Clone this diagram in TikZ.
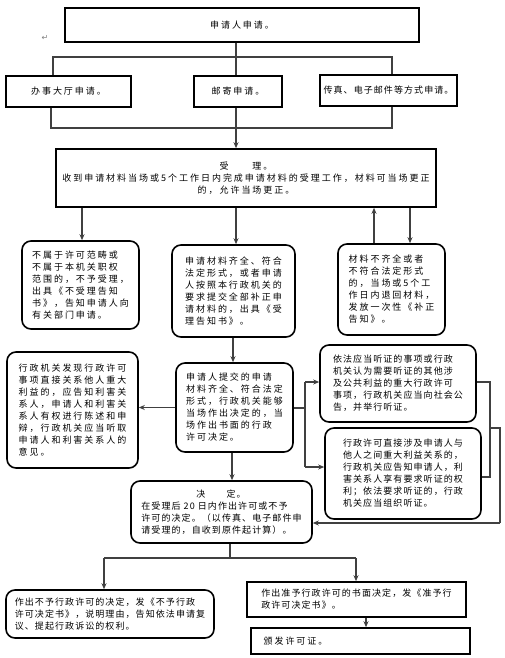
\documentclass[tikz,border=0pt]{standalone}
\usepackage{fontspec}
\setmainfont{Noto Sans CJK SC}[LetterSpace=22]
\newfontfamily\tightcjk{Noto Sans CJK SC}[LetterSpace=12]
\newfontfamily\symfont{DejaVu Sans}
\usetikzlibrary{arrows.meta}
\begin{document}
\begin{tikzpicture}[x=1pt,y=-1pt,
  sq/.style={draw=black, line width=1.6pt, inner sep=0pt, align=center,
    font=\fontsize{9}{12}\selectfont},
  rnd/.style={sq, rounded corners=9pt, align=left},
  conn/.style={line width=1.2pt, draw=black!75},
  arr/.style={conn, -{Stealth[length=6pt,width=5pt]}}]
\path[use as bounding box] (0,0) rectangle (505,658);
\fill[white] (0,0) rectangle (505,658);

\node[text=black!50, font=\symfont\fontsize{8}{8}\selectfont] (ret) at (45,38) {↵};

% row 0 / 1
\node[sq, minimum width=354, minimum height=34] (top) at (242,25) {申请人申请。};
\node[sq, minimum width=125, minimum height=31] (r1a) at (68.5,91.5) {办事大厅申请。};
\node[sq, minimum width=88, minimum height=31] (r1b) at (238,91.5) {邮寄申请。};
\node[sq, minimum width=137, minimum height=31] (r1c) at (388.5,90.5) {\tightcjk 传真、电子邮件等方式申请。};

% accept
\node[sq, minimum width=380, minimum height=58] (acc) at (246,178)
  {受　　理。\\收到申请材料当场或5个工作日内完成申请材料的受理工作，材料可当场更正\\的，允许当场更正。};

% row 2
\node[rnd, minimum width=117, minimum height=88] (r2a) at (80.5,285)
  {不属于许可范畴或\\不属于本机关职权\\范围的，不予受理，\\出具《不受理告知\\书》，告知申请人向\\有关部门申请。};
\node[rnd, minimum width=123, minimum height=92] (r2b) at (233.5,291)
  {申请材料齐全、符合\\法定形式，或者申请\\人按照本行政机关的\\要求提交全部补正申\\请材料的，出具《受\\理告知书》。};
\node[rnd, minimum width=107, minimum height=91] (r2c) at (391.5,289.5)
  {材料不齐全或者\\不符合法定形式\\的，当场或5个工\\作日内退回材料，\\发放一次性《补正\\告知》。};

% row 3
\node[rnd, minimum width=131, minimum height=116] (r3a) at (72.5,410)
  {行政机关发现行政许可\\事项直接关系他人重大\\利益的，应告知利害关\\系人，申请人和利害关\\系人有权进行陈述和申\\辩，行政机关应当听取\\申请人和利害关系人的\\意见。};
\node[rnd, minimum width=117, minimum height=89] (r3b) at (234.5,407.5)
  {申请人提交的申请\\材料齐全、符合法定\\形式，行政机关能够\\当场作出决定的，当\\场作出书面的行政\\许可决定。};
\node[rnd, minimum width=156, minimum height=77] (r3c) at (398,383.5)
  {\tightcjk 依法应当听证的事项或行政\\\tightcjk 机关认为需要听证的其他涉\\\tightcjk 及公共利益的重大行政许可\\\tightcjk 事项，行政机关应当向社会公\\\tightcjk 告，并举行听证。};
\node[rnd, minimum width=156, minimum height=91] (r3d) at (403,473.5)
  {\tightcjk 行政许可直接涉及申请人与\\\tightcjk 他人之间重大利益关系的，\\\tightcjk 行政机关应告知申请人，利\\\tightcjk 害关系人享有要求听证的权\\\tightcjk 利；依法要求听证的，行政\\\tightcjk 机关应当组织听证。};

% decision
\node[rnd, minimum width=181, minimum height=62] (dec) at (221.5,512)
  {\tightcjk\hspace*{55pt}决　　定。\\\tightcjk 在受理后 20 日内作出许可或不予\\\tightcjk 许可的决定。（以传真、电子邮件申\\\tightcjk 请受理的，自收到原件起计算）。};

% bottom
\node[rnd, minimum width=208, minimum height=48] (b1) at (110,614)
  {\tightcjk 作出不予行政许可的决定，发《不予行政\\\tightcjk 许可决定书》，说明理由，告知依法申请复\\\tightcjk 议、提起行政诉讼的权利。};
\node[sq, align=left, minimum width=219, minimum height=35] (b2) at (356.5,599.5)
  {\tightcjk 作出准予行政许可的书面决定，发《准予行\\\tightcjk 政许可决定书》。\hspace*{100pt}};
\node[sq, align=left, minimum width=219, minimum height=26] (b3) at (360.5,641)
  {颁发许可证。\hspace*{130pt}};

% helper coordinates
\coordinate (t1) at (53,57);
\coordinate (tm) at (236,57);
\coordinate (t3) at (392,57);
\coordinate (u1) at (51,128);
\coordinate (um) at (236,128);
\coordinate (u3) at (392,128);
\coordinate (xa) at (82,220);
\coordinate (xu) at (374,220);
\coordinate (xd) at (410,220);
\coordinate (x2) at (233,350);
\coordinate (j) at (305,408);
\coordinate (jt) at (305,382);
\coordinate (jb) at (305,467);
\coordinate (l1) at (490,382);
\coordinate (l2) at (490,477);
\coordinate (l3) at (490,428);
\coordinate (l4) at (500,428);
\coordinate (l5) at (500,523);
\coordinate (x3) at (232,470);
\coordinate (d0) at (230,558);
\coordinate (dl) at (104,558);
\coordinate (dr) at (356,558);
\coordinate (x4) at (366,620);

% connectors
\draw[conn] (top.south -| tm) -- (tm);
\draw[conn] (r1a.north -| t1) -- (t1) -- (t3) -- (r1c.north -| t3);
\draw[conn] (tm) -- (r1b.north -| tm);
\draw[conn] (r1a.south -| u1) -- (u1) -- (u3) -- (r1c.south -| u3);
\draw[arr] (r1b.south -| um) -- (acc.north -| um);
\draw[arr] (acc.south -| xa) -- (r2a.north -| xa);
\draw[arr] (acc.south -| um) -- (r2b.north -| um);
\draw[arr] (r2c.north -| xu) -- (acc.south -| xu);
\draw[arr] (acc.south -| xd) -- (r2c.north -| xd);
\draw[arr] (r2b.south -| x2) -- (r3b.north -| x2);
\draw[arr] (r3b.west) -- (r3a.east |- r3b.west);
\draw[conn] (r3b.east |- j) -- (j);
\draw[conn] (jt) -- (jb);
\draw[arr] (jt) -- (r3c.west |- jt);
\draw[arr] (jb) -- (r3d.west |- jb);
\draw[conn] (r3c.east |- l1) -- (l1) -- (l2) -- (r3d.east |- l2);
\draw[conn] (l3) -- (l4) -- (l5);
\draw[arr] (l5) -- (dec.east |- l5);
\draw[arr] (r3b.south -| x3) -- (dec.north -| x3);
\draw[conn] (dec.south -| d0) -- (d0);
\draw[conn] (dl) -- (dr);
\draw[arr] (dl) -- (b1.north -| dl);
\draw[arr] (dr) -- (b2.north -| dr);
\draw[arr] (b2.south -| x4) -- (b3.north -| x4);
\end{tikzpicture}
\end{document}
